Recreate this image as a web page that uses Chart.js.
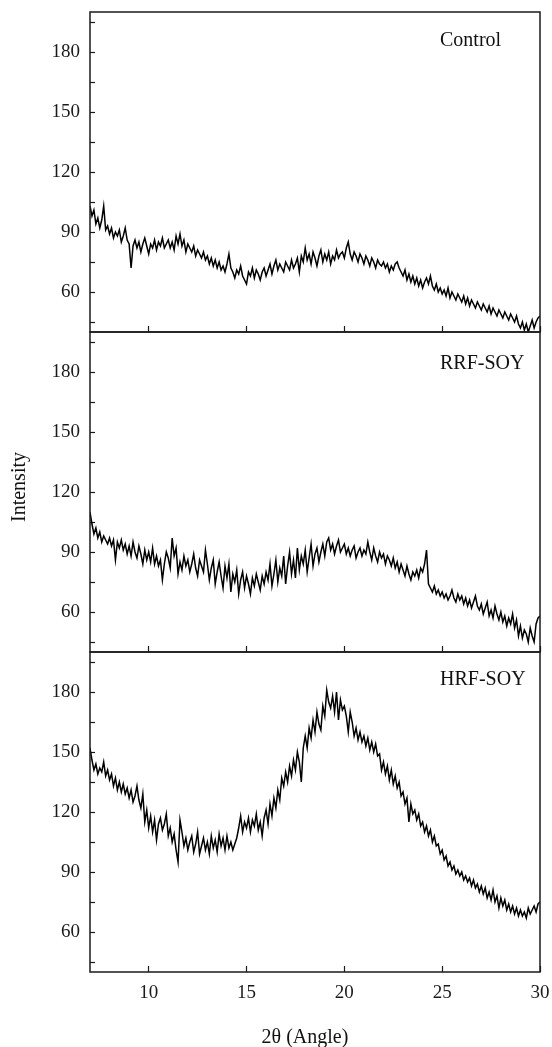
<!DOCTYPE html>
<html>
<head>
<meta charset="utf-8">
<script src="https://cdn.jsdelivr.net/npm/chart.js@4.4.1/dist/chart.umd.min.js"></script>
<style>
  html, body { margin: 0; padding: 0; background: #fff; }
  #wrap { position: relative; width: 552px; height: 1047px; overflow: hidden; font-family: "Liberation Serif", "Times New Roman", serif; color: #111; }
  canvas { position: absolute; left: 0; }
  .lbl { position: absolute; font-size: 20px; line-height: 20px; white-space: nowrap; }
</style>
</head>
<body>
<div id="wrap">
  <canvas id="pControl" width="552" height="340" style="top:0px"></canvas>
  <canvas id="pRrf" width="552" height="340" style="top:320px"></canvas>
  <canvas id="pHrf" width="552" height="407" style="top:640px"></canvas>
  <div class="lbl" style="left:440px;top:29px;">Control</div>
  <div class="lbl" style="left:440px;top:352px;">RRF-SOY</div>
  <div class="lbl" style="left:440px;top:668px;">HRF-SOY</div>
  <div class="lbl" style="left:305px;top:1026px;transform:translateX(-50%);">2θ (Angle)</div>
  <div class="lbl" style="left:18px;top:487px;transform:translate(-50%,-50%) rotate(-90deg);">Intensity</div>
</div>
<script>
"use strict";

// 2θ positions, read every 0.1 degree
const angles = [
  7.0, 7.1, 7.2, 7.3, 7.4, 7.5, 7.6, 7.7, 7.8, 7.9,
  8.0, 8.1, 8.2, 8.3, 8.4, 8.5, 8.6, 8.7, 8.8, 8.9,
  9.0, 9.1, 9.2, 9.3, 9.4, 9.5, 9.6, 9.7, 9.8, 9.9,
  10.0, 10.1, 10.2, 10.3, 10.4, 10.5, 10.6, 10.7, 10.8, 10.9,
  11.0, 11.1, 11.2, 11.3, 11.4, 11.5, 11.6, 11.7, 11.8, 11.9,
  12.0, 12.1, 12.2, 12.3, 12.4, 12.5, 12.6, 12.7, 12.8, 12.9,
  13.0, 13.1, 13.2, 13.3, 13.4, 13.5, 13.6, 13.7, 13.8, 13.9,
  14.0, 14.1, 14.2, 14.3, 14.4, 14.5, 14.6, 14.7, 14.8, 14.9,
  15.0, 15.1, 15.2, 15.3, 15.4, 15.5, 15.6, 15.7, 15.8, 15.9,
  16.0, 16.1, 16.2, 16.3, 16.4, 16.5, 16.6, 16.7, 16.8, 16.9,
  17.0, 17.1, 17.2, 17.3, 17.4, 17.5, 17.6, 17.7, 17.8, 17.9,
  18.0, 18.1, 18.2, 18.3, 18.4, 18.5, 18.6, 18.7, 18.8, 18.9,
  19.0, 19.1, 19.2, 19.3, 19.4, 19.5, 19.6, 19.7, 19.8, 19.9,
  20.0, 20.1, 20.2, 20.3, 20.4, 20.5, 20.6, 20.7, 20.8, 20.9,
  21.0, 21.1, 21.2, 21.3, 21.4, 21.5, 21.6, 21.7, 21.8, 21.9,
  22.0, 22.1, 22.2, 22.3, 22.4, 22.5, 22.6, 22.7, 22.8, 22.9,
  23.0, 23.1, 23.2, 23.3, 23.4, 23.5, 23.6, 23.7, 23.8, 23.9,
  24.0, 24.1, 24.2, 24.3, 24.4, 24.5, 24.6, 24.7, 24.8, 24.9,
  25.0, 25.1, 25.2, 25.3, 25.4, 25.5, 25.6, 25.7, 25.8, 25.9,
  26.0, 26.1, 26.2, 26.3, 26.4, 26.5, 26.6, 26.7, 26.8, 26.9,
  27.0, 27.1, 27.2, 27.3, 27.4, 27.5, 27.6, 27.7, 27.8, 27.9,
  28.0, 28.1, 28.2, 28.3, 28.4, 28.5, 28.6, 28.7, 28.8, 28.9,
  29.0, 29.1, 29.2, 29.3, 29.4, 29.5, 29.6, 29.7, 29.8, 29.9,
  30.0
];

const controlIntensity = [
  103, 98, 101, 94, 97, 92, 96, 103, 91, 93,
  89, 92, 87, 90, 88, 91, 85, 88, 92, 86,
  84, 72, 83, 86, 82, 85, 80, 84, 87, 83,
  79, 84, 82, 86, 81, 85, 83, 87, 82, 84,
  86, 82, 85, 81, 88, 84, 89, 83, 86, 80,
  84, 82, 80, 83, 78, 81, 79, 77, 80, 76,
  78, 74, 77, 73, 76, 72, 75, 71, 73, 70,
  74, 79, 72, 70, 67, 71, 69, 73, 68, 66,
  64, 70, 68, 72, 67, 71, 69, 66, 70, 72,
  68, 71, 74, 69, 73, 76, 71, 74, 72, 70,
  75, 73, 71, 76, 72, 74, 77, 70, 78, 75,
  82, 76, 79, 74, 80, 77, 73, 78, 81, 75,
  79, 76, 80, 74, 78, 76, 81, 77, 79, 80,
  77, 82, 85, 79, 76, 80, 78, 75, 79, 77,
  74, 78, 76, 73, 77, 75, 72, 76, 74, 73,
  75, 72, 74, 70, 73, 71, 74, 75, 72, 70,
  68, 71, 66, 69, 65, 68, 64, 67, 63, 66,
  62, 65, 67, 64, 68, 63, 61, 64, 60, 62,
  59, 61, 58, 62, 57, 60, 58, 56, 59, 57,
  55, 58, 54, 57, 53, 56, 54, 52, 55, 53,
  51, 54, 52, 50, 53, 49, 52, 50, 48, 51,
  49, 47, 50, 48, 46, 49, 47, 45, 48, 44,
  42, 45, 41, 44, 40, 43, 46, 42, 45, 47,
  48
];

const rrfIntensity = [
  110, 104, 99, 102, 97, 100, 95, 98, 96, 94,
  97, 93, 96, 86, 95, 92, 96, 91, 94, 89,
  93, 88, 95, 90, 87, 93, 89, 84, 91, 86,
  90, 85, 92, 84, 88, 83, 86, 76, 84, 90,
  87, 82, 97, 88, 92, 79, 85, 81, 88, 83,
  86, 80, 84, 89, 82, 78, 86, 83, 80, 91,
  84, 76, 82, 86, 74, 80, 85, 78, 72, 83,
  77, 84, 70, 79, 75, 81, 69, 76, 80, 72,
  78, 74, 69, 77, 73, 79, 75, 71, 78, 74,
  80, 76, 84, 73, 79, 86, 75, 82, 78, 88,
  74, 83, 90, 79, 86, 77, 92, 81, 88, 84,
  91, 80, 87, 94, 83, 89, 92, 85, 90, 94,
  88, 95, 97, 91, 94, 89, 93, 96, 90, 92,
  94, 89, 92, 88, 91, 93, 87, 90, 92, 88,
  91, 89, 95, 90, 86, 92, 88, 85, 90, 87,
  89, 84, 88, 86, 83, 87, 82, 85, 80, 84,
  81, 78, 83, 79, 76, 80, 78, 81, 77, 82,
  80, 84, 91, 74, 72, 70, 73, 69, 71, 68,
  70, 67, 69, 66, 68, 71, 67, 65, 69, 66,
  68, 64, 67, 63, 66, 62, 65, 68, 63, 61,
  64, 59, 62, 65, 58, 61, 57, 63, 59, 56,
  60, 55, 58, 53, 57, 54, 59, 52, 56, 48,
  53, 47, 51, 49, 45, 52, 48, 45, 54, 57,
  58
];

const hrfIntensity = [
  152, 146, 141, 144, 139, 142, 140, 145, 138, 141,
  136, 139, 133, 137, 131, 135, 130, 134, 129, 132,
  127, 131, 125, 128, 133, 126, 122, 129, 115, 121,
  112, 118, 110, 116, 106, 114, 117, 111, 114, 119,
  108, 112, 105, 109, 101, 95, 116, 110, 103, 107,
  101, 105, 108, 100, 104, 110, 99, 103, 107, 101,
  105, 99, 108, 102, 106, 100, 109, 103, 107, 101,
  108, 102, 105, 101, 104, 107, 112, 118, 110, 115,
  112, 117, 110, 116, 113, 119, 111, 115, 108, 117,
  121, 114, 124, 118, 127, 122, 131, 126, 137, 133,
  140, 135, 143, 138, 146, 141, 150, 145, 135, 152,
  158, 152, 162, 157, 166, 160, 170, 164, 161, 173,
  168, 181, 175, 172, 178, 170, 180, 166, 176, 171,
  173, 168, 160, 170, 165, 158, 162, 156, 160, 155,
  158, 153, 157, 151, 155, 150, 154, 148, 149, 141,
  145, 139, 143, 136, 141, 134, 138, 132, 135, 128,
  130, 124, 127, 115, 124, 119, 121, 116, 119, 113,
  115, 110, 113, 108, 111, 105, 108, 103, 104, 99,
  101, 96, 98, 93, 95, 91, 93, 89, 91, 88,
  90, 86, 88, 85, 87, 83, 86, 82, 84, 80,
  83, 79, 82, 77, 80, 76, 81, 75, 78, 72,
  77, 73, 76, 71, 74, 70, 73, 69, 72, 68,
  71, 68, 70, 67, 72, 69, 71, 73, 70, 74,
  75
];

const xTickValues = [10, 15, 20, 25, 30];
const yTickValues = [45, 60, 75, 90, 105, 120, 135, 150, 165, 180, 195];
const yLabelledTicks = [60, 90, 120, 150, 180];

const ink = "#1a1a1a";
const tickFont = { family: "'Liberation Serif', 'Times New Roman', serif", size: 19 };

// box around each panel
const frame = {
  id: "frame",
  afterDraw(chart) {
    const { ctx, chartArea: a } = chart;
    ctx.save();
    ctx.strokeStyle = ink;
    ctx.lineWidth = 1.5;
    ctx.strokeRect(a.left, a.top, a.right - a.left, a.bottom - a.top);
    ctx.restore();
  }
};

function noPadding(s) {
  s.paddingTop = 0;
  s.paddingBottom = 0;
  s.paddingLeft = 0;
  s.paddingRight = 0;
}

function makePanel(id, values, bottomPanel) {
  const canvas = document.getElementById(id);
  const points = angles.map((x, i) => ({ x, y: values[i] }));
  const xHeight = canvas.height - 320 - 12;
  return new Chart(canvas, {
    type: "line",
    data: {
      datasets: [{
        data: points,
        borderColor: "#000",
        borderWidth: 1.5,
        pointRadius: 0,
        tension: 0,
        fill: false
      }]
    },
    options: {
      responsive: false,
      animation: false,
      devicePixelRatio: 1,
      layout: { padding: { top: 12, right: 12, left: 0, bottom: 0 } },
      plugins: { legend: { display: false }, tooltip: { enabled: false } },
      scales: {
        x: {
          type: "linear",
          min: 7,
          max: 30,
          afterBuildTicks: s => { s.ticks = xTickValues.map(v => ({ value: v })); },
          afterFit: s => { s.height = xHeight; noPadding(s); },
          border: { display: false },
          grid: { drawOnChartArea: false, drawTicks: true, tickLength: -6, tickColor: ink, tickWidth: 1.2 },
          ticks: {
            autoSkip: false,
            maxRotation: 0,
            padding: 16,
            color: ink,
            font: tickFont,
            callback: v => bottomPanel ? String(v) : ""
          }
        },
        y: {
          type: "linear",
          min: 40,
          max: 200,
          afterBuildTicks: s => { s.ticks = yTickValues.map(v => ({ value: v })); },
          afterFit: s => { s.width = 90; noPadding(s); },
          border: { display: false },
          grid: { drawOnChartArea: false, drawTicks: true, tickLength: -5, tickColor: ink, tickWidth: 1.2 },
          ticks: {
            autoSkip: false,
            padding: 15,
            color: ink,
            font: tickFont,
            callback: v => yLabelledTicks.includes(v) ? String(v) : ""
          }
        }
      }
    },
    plugins: [frame]
  });
}

makePanel("pControl", controlIntensity, false);
makePanel("pRrf", rrfIntensity, false);
makePanel("pHrf", hrfIntensity, true);
</script>
</body>
</html>
